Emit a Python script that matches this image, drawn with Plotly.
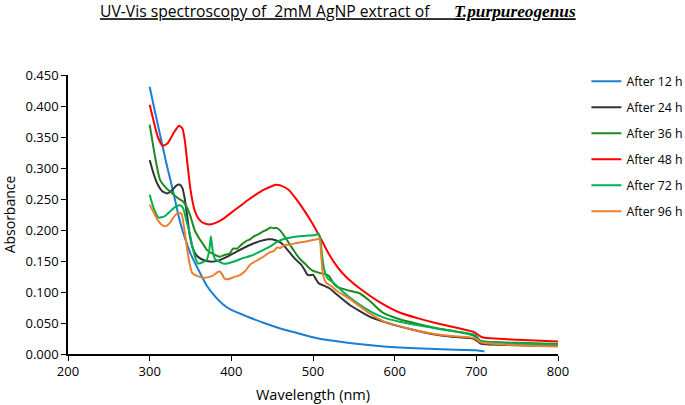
import plotly.graph_objects as go

# ---------------- data ----------------
series_names = ["After 12 h", "After 24 h", "After 36 h", "After 48 h", "After 72 h", "After 96 h"]
series_colors = ["#1a7fd4", "#333333", "#1e8a1e", "#ff0000", "#00b050", "#ed7d31"]

wl_12 = [300, 305, 310, 315, 320, 325, 330, 335, 340, 345, 350, 360, 370, 380, 390, 400, 420, 440, 460, 480,
         500, 520, 550, 580, 600, 650, 700, 710]
ab_12 = [0.431, 0.400, 0.370, 0.340, 0.310, 0.283, 0.255, 0.225, 0.200, 0.180, 0.162, 0.135, 0.110, 0.093, 0.080,
         0.071, 0.060, 0.050, 0.041, 0.034, 0.027, 0.022, 0.017, 0.013, 0.011, 0.008, 0.006, 0.004]

wl_24 = [300, 305, 310, 315, 321, 328, 333, 337, 340, 343, 346, 349, 353, 358, 365, 374, 385, 395, 405, 415, 425,
         435, 445, 450, 455, 460, 465, 470, 475, 480, 485, 490, 493, 496, 500, 503, 507, 512, 520, 530, 545, 570,
         594, 620, 647, 670, 696, 700, 705, 750, 800]
ab_24 = [0.313, 0.290, 0.273, 0.263, 0.259, 0.265, 0.272, 0.273, 0.268, 0.250, 0.222, 0.192, 0.170, 0.158, 0.152,
         0.149, 0.151, 0.157, 0.164, 0.171, 0.177, 0.182, 0.185, 0.185, 0.183, 0.180, 0.174, 0.166, 0.158, 0.151,
         0.145, 0.135, 0.128, 0.127, 0.128, 0.122, 0.114, 0.111, 0.106, 0.095, 0.079, 0.060, 0.049, 0.040, 0.032,
         0.028, 0.025, 0.022, 0.017, 0.014, 0.013]

wl_36 = [300, 305, 310, 313, 320, 325, 330, 335, 341, 345, 350, 355, 360, 365, 370, 378, 386, 392, 398, 402, 407,
         412, 418, 423, 428, 433, 438, 443, 448, 452, 456, 460, 465, 470, 475, 480, 485, 490, 495, 500, 505, 510,
         515, 520, 525, 530, 537, 545, 557, 570, 585, 606, 630, 650, 680, 696, 700, 705, 750, 800]
ab_36 = [0.370, 0.330, 0.295, 0.280, 0.268, 0.262, 0.256, 0.251, 0.246, 0.238, 0.222, 0.200, 0.188, 0.178, 0.168,
         0.161, 0.157, 0.160, 0.162, 0.170, 0.170, 0.176, 0.182, 0.185, 0.190, 0.193, 0.197, 0.200, 0.204, 0.203,
         0.203, 0.199, 0.190, 0.180, 0.170, 0.160, 0.152, 0.146, 0.139, 0.134, 0.132, 0.130, 0.129, 0.125, 0.114,
         0.108, 0.105, 0.102, 0.098, 0.085, 0.067, 0.056, 0.048, 0.042, 0.035, 0.030, 0.027, 0.021, 0.018, 0.016]

wl_48 = [300, 305, 310, 316, 322, 330, 336, 340, 343, 346, 350, 355, 360, 366, 374, 380, 390, 400, 410, 420, 430,
         440, 450, 455, 460, 470, 480, 490, 500, 510, 520, 530, 540, 557, 580, 606, 630, 650, 680, 696, 700, 707,
         750, 800]
ab_48 = [0.402, 0.375, 0.350, 0.336, 0.340, 0.358, 0.368, 0.364, 0.345, 0.310, 0.265, 0.232, 0.218, 0.211, 0.209,
         0.211, 0.218, 0.228, 0.238, 0.248, 0.257, 0.265, 0.271, 0.273, 0.272, 0.265, 0.249, 0.230, 0.209, 0.185,
         0.160, 0.140, 0.125, 0.106, 0.085, 0.067, 0.057, 0.050, 0.041, 0.036, 0.033, 0.027, 0.023, 0.020]

wl_72 = [300, 305, 311, 318, 325, 331, 337, 341, 345, 349, 352, 356, 359, 365, 370, 373, 375, 377, 380, 384, 390,
         395, 405, 415, 423, 435, 447, 455, 463, 473, 484, 495, 503, 507, 509, 511, 514, 518, 525, 537, 545, 566,
         586, 606, 643, 670, 696, 700, 705, 750, 800]
ab_72 = [0.257, 0.235, 0.220, 0.222, 0.230, 0.237, 0.240, 0.235, 0.215, 0.195, 0.175, 0.155, 0.146, 0.148, 0.152,
         0.168, 0.190, 0.168, 0.153, 0.150, 0.146, 0.146, 0.150, 0.155, 0.158, 0.165, 0.173, 0.180, 0.185, 0.188,
         0.190, 0.191, 0.192, 0.194, 0.185, 0.160, 0.135, 0.122, 0.115, 0.100, 0.091, 0.072, 0.059, 0.052, 0.043,
         0.037, 0.032, 0.029, 0.021, 0.017, 0.015]

wl_96 = [300, 305, 310, 315, 319, 325, 330, 335, 339, 342, 346, 349, 352, 358, 366, 372, 378, 383, 386, 389, 392,
         397, 403, 410, 417, 423, 430, 437, 447, 452, 456, 460, 465, 470, 476, 484, 490, 497, 505, 508, 510, 512,
         516, 522, 529, 545, 570, 586, 606, 627, 650, 670, 696, 700, 705, 750, 800]
ab_96 = [0.241, 0.228, 0.216, 0.208, 0.206, 0.212, 0.222, 0.228, 0.226, 0.205, 0.168, 0.145, 0.131, 0.126, 0.123,
         0.124, 0.127, 0.132, 0.133, 0.128, 0.121, 0.121, 0.124, 0.127, 0.134, 0.144, 0.150, 0.155, 0.164, 0.166,
         0.172, 0.171, 0.176, 0.176, 0.178, 0.180, 0.181, 0.183, 0.185, 0.186, 0.160, 0.130, 0.115, 0.110, 0.102,
         0.089, 0.065, 0.053, 0.045, 0.038, 0.032, 0.029, 0.026, 0.024, 0.019, 0.014, 0.012]

x_series = [wl_12, wl_24, wl_36, wl_48, wl_72, wl_96]
y_series = [ab_12, ab_24, ab_36, ab_48, ab_72, ab_96]

x_ticks = [200, 300, 400, 500, 600, 700, 800]
y_ticks = [0.0, 0.05, 0.10, 0.15, 0.20, 0.25, 0.30, 0.35, 0.40, 0.45]
y_tick_labels = ["0.000", "0.050", "0.100", "0.150", "0.200", "0.250", "0.300", "0.350", "0.400", "0.450"]

FONT = "Open Sans"

fig = go.Figure()
for i, (name, col, xs, ys) in enumerate(zip(series_names, series_colors, x_series, y_series)):
    fig.add_trace(go.Scatter(
        x=xs, y=ys, name=name, mode="lines",
        line=dict(color=col, width=2, shape="spline", smoothing=0.5),
        legendgroup=f"g{i}",
    ))

fig.update_layout(
    width=685, height=405,
    margin=dict(l=68, r=127, t=75, b=50.5, pad=0, autoexpand=False),
    paper_bgcolor="white", plot_bgcolor="white",
    font=dict(family=FONT, color="black", size=12),
    title=dict(
        text="<span style='text-decoration:underline'>UV-Vis spectroscopy of\u00a0\u00a02mM AgNP extract of"
             "\u00a0\u00a0\u00a0\u00a0\u00a0\u00a0<span style='font-family:Liberation Serif;font-size:17.3px'>"
             "<b><i>T.purpureogenus</i></b></span></span>",
        x=(100 - 68) / 490, xref="paper", xanchor="left", y=0.971, yanchor="middle",
        font=dict(family=FONT, size=15.7, color="black"),
    ),
    legend=dict(
        x=1.058, y=1.030, xanchor="left", yanchor="top",
        font=dict(family=FONT, size=12.3, color="black"),
        tracegroupgap=7, bgcolor="rgba(0,0,0,0)",
    ),
    showlegend=True,
)

fig.update_xaxes(
    range=[200, 800], tickvals=x_ticks, ticktext=[str(v) for v in x_ticks],
    showgrid=False, zeroline=False, showline=True, linecolor="black", linewidth=1.5,
    ticks="outside", ticklen=5, tickcolor="black", tickwidth=1.2, automargin=False,
    tickfont=dict(family=FONT, size=13, color="black"),
    title=dict(text="Wavelength (nm)", font=dict(family=FONT, size=14.5, color="black"), standoff=11),
)
fig.update_yaxes(
    range=[0, 0.45], tickvals=y_ticks, ticktext=y_tick_labels,
    showgrid=False, zeroline=False, showline=True, linecolor="black", linewidth=1.5,
    ticks="outside", ticklen=5, tickcolor="black", tickwidth=1.2, automargin=False,
    tickfont=dict(family=FONT, size=13, color="black"),
    title=dict(text="Absorbance", font=dict(family=FONT, size=14, color="black"), standoff=17),
)

# remove the browser's default 8px body margin so the figure sits at the page's top-left corner
fig.write_html("out.html", config={"displayModeBar": False},
               post_script="document.body.style.margin='0';")
